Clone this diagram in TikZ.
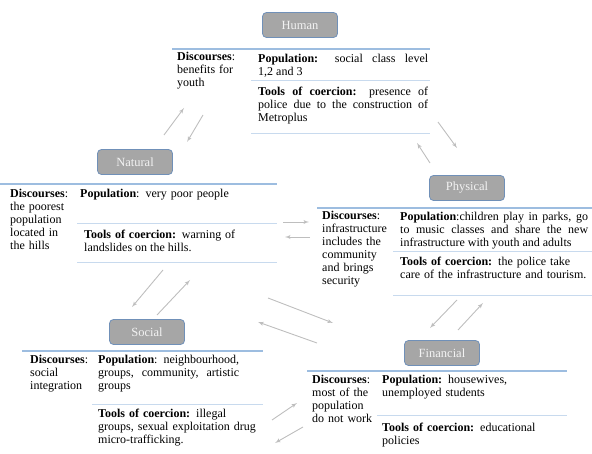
\documentclass[tikz,border=0pt]{standalone}
\usepackage{fontspec}
\setmainfont{Liberation Serif}
\usetikzlibrary{arrows, positioning}
\definecolor{boxgray}{HTML}{A6A6A6}
\definecolor{boxedge}{HTML}{7090B8}
\definecolor{rulestrong}{HTML}{9DBDE0}
\definecolor{rulelight}{HTML}{C8DAEE}
\definecolor{arrowgray}{HTML}{BEBEBE}
\tikzstyle{dimension} = [rectangle, rounded corners=4pt, minimum width=75pt, minimum height=25pt, text centered, draw=boxedge, fill=boxgray, text=white!90!gray, line width=0.8pt, font=\fontsize{12.5}{13}\selectfont]
\tikzstyle{discourse} = [anchor=north west, inner sep=0pt, align=left]
\tikzstyle{cell} = [anchor=north west, inner sep=0pt, align=justify]
\tikzstyle{raggedcell} = [anchor=north west, inner sep=0pt, align=left]
\tikzstyle{toprule} = [draw=rulestrong, line width=1.2pt]
\tikzstyle{midrule} = [draw=rulelight, line width=0.9pt]
\tikzstyle{link} = [draw=arrowgray, line width=0.9pt, -latex']

\begin{document}
\begin{tikzpicture}[x=1pt, y=-1pt, font=\fontsize{12}{13}\selectfont]
\useasboundingbox (0,0) rectangle (592,454);

% Dimensions
\node (human) [dimension] at (300,25) {Human};
\node (natural) [dimension] at (135,162) {Natural};
\node (physical) [dimension] at (467,188) {Physical};
\node (social) [dimension] at (147,332) {Social};
\node (financial) [dimension] at (442,353) {Financial};

% Tables
% Human
\draw [toprule] (172,49) -- (430,49);
\draw [midrule] (251,80) -- (430,80);
\draw [midrule] (251,133) -- (430,133);
\node (humandisc) [discourse, text width=68pt] at (177,52) {
    \textbf{Discourses}:\\ benefits for\\ youth
};
\node (humanpop) [cell, text width=170pt] at (258,54) {
    \textbf{Population:} social class level\linebreak 1,2 and 3
};
\node (humantools) [cell, text width=170pt] at (258,87) {
    \textbf{Tools of coercion:} presence of\linebreak police due to the construction of\linebreak Metroplus
};
% Natural
\draw [toprule] (0,184) -- (277,184);
\draw [midrule] (77,223) -- (277,223);
\draw [midrule] (77,262) -- (277,262);
\node (naturaldisc) [discourse, text width=66pt] at (10,189) {
    \textbf{Discourses}:\\ the poorest\\ population\\ located in\\ the hills
};
\node (naturalpop) [raggedcell, text width=190pt] at (80,189) {
    \textbf{Population}: very poor people
};
\node (naturaltools) [cell, text width=151pt] at (84,230) {
    \textbf{Tools of coercion:} warning of\linebreak landslides on the hills.
};
% Physical
\draw [toprule] (317,208) -- (592,208);
\draw [midrule] (393,251) -- (592,251);
\draw [midrule] (393,295) -- (592,295);
\node (physicaldisc) [discourse, text width=68pt] at (322,211) {
    \textbf{Discourses}:\\ infrastructure\\ includes the\\ community\\ and brings\\ security
};
\node (physicalpop) [cell, text width=188pt] at (400,212) {
    \textbf{Population}:children play in parks, go\linebreak to music classes and share the new\linebreak infrastructure with youth and adults
};
\node (physicaltools) [raggedcell, text width=188pt] at (400,257) {
    \textbf{Tools of coercion:} the police take\\ care of the infrastructure and tourism.
};
% Social
\draw [toprule] (22,351) -- (263,351);
\draw [midrule] (92,404) -- (263,404);
\node (socialdisc) [discourse, text width=62pt] at (30,355) {
    \textbf{Discourses}:\\ social\\ integration
};
\node (socialpop) [cell, text width=141pt] at (98,355) {
    \textbf{Population}: neighbourhood,\linebreak groups, community, artistic\linebreak groups
};
\node (socialtools) [raggedcell, text width=162pt] at (98,409) {
    \textbf{Tools of coercion:} illegal\\ groups, sexual exploitation drug\\ micro-trafficking.
};
% Financial
\draw [toprule] (307,371) -- (567,371);
\draw [midrule] (377,415) -- (567,415);
\node (financialdisc) [discourse, text width=66pt] at (312,375) {
    \textbf{Discourses}:\\ most of the\\ population\\ do not work
};
\node (financialpop) [raggedcell, text width=180pt] at (382,375) {
    \textbf{Population:} housewives,\\ unemployed students
};
\node (financialtools) [raggedcell, text width=180pt] at (382,423) {
    \textbf{Tools of coercion:} educational\\ policies
};

% Arrow ends
\coordinate (hnA) at (164,135);  \coordinate (hnB) at (184,108);
\coordinate (nhA) at (203,115);  \coordinate (nhB) at (187,142);
\coordinate (hpA) at (438,122);  \coordinate (hpB) at (457,148);
\coordinate (phA) at (430,163);  \coordinate (phB) at (417,143);
\coordinate (npA) at (283,222);  \coordinate (npB) at (309,222);
\coordinate (pnA) at (310,237);  \coordinate (pnB) at (285,237);
\coordinate (nsA) at (163,270);  \coordinate (nsB) at (132,307);
\coordinate (snA) at (157,315);  \coordinate (snB) at (190,280);
\coordinate (spA) at (268,298);  \coordinate (spB) at (333,323);
\coordinate (psA) at (317,343);  \coordinate (psB) at (258,322);
\coordinate (pfA) at (457,300);  \coordinate (pfB) at (430,328);
\coordinate (fpA) at (458,330);  \coordinate (fpB) at (483,303);
\coordinate (sfA) at (272,420);  \coordinate (sfB) at (297,403);
\coordinate (fsA) at (303,427);  \coordinate (fsB) at (275,443);

% Connections
\draw [link] (hnA) -- (hnB);
\draw [link] (nhA) -- (nhB);
\draw [link] (hpA) -- (hpB);
\draw [link] (phA) -- (phB);
\draw [link] (npA) -- (npB);
\draw [link] (pnA) -- (pnB);
\draw [link] (nsA) -- (nsB);
\draw [link] (snA) -- (snB);
\draw [link] (spA) -- (spB);
\draw [link] (psA) -- (psB);
\draw [link] (pfA) -- (pfB);
\draw [link] (fpA) -- (fpB);
\draw [link] (sfA) -- (sfB);
\draw [link] (fsA) -- (fsB);

\end{tikzpicture}
\end{document}
